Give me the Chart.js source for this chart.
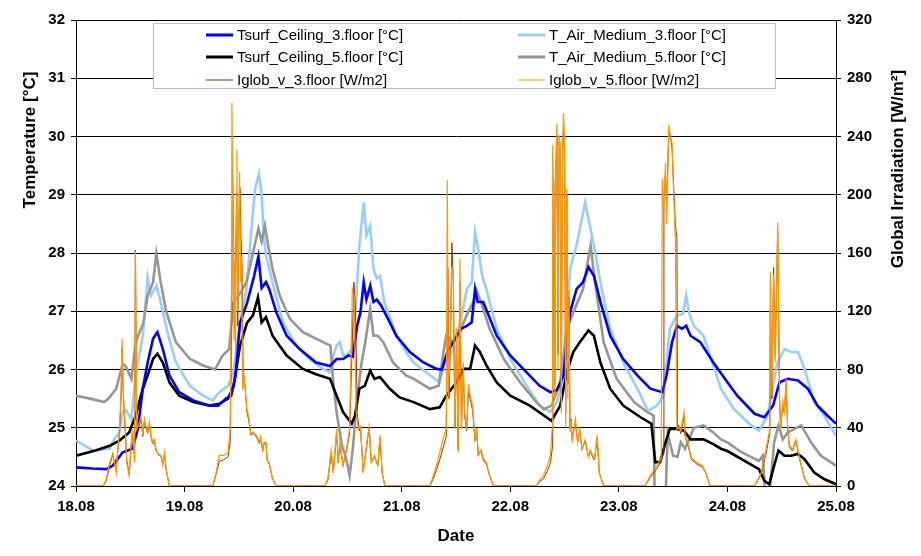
<!DOCTYPE html>
<html>
<head>
<meta charset="utf-8">
<script src="https://cdn.jsdelivr.net/npm/chart.js@4"></script>
<style>
  body { margin: 0; background: #fff; }
</style>
</head>
<body>
<canvas id="chart" width="921" height="556"></canvas>
<script>
// x values are days after 18.08 00:00
const dateLabels = ["18.08", "19.08", "20.08", "21.08", "22.08", "23.08", "24.08", "25.08"];

const tsurfCeiling3 = [
  [0,24.32],[0.15,24.30],[0.28,24.29],[0.34,24.35],[0.43,24.58],[0.52,24.64],[0.57,24.98],[0.615,25.67],[0.66,26.12],[0.71,26.53],
  [0.75,26.64],[0.80,26.35],[0.86,25.9],[0.95,25.61],[1.08,25.47],[1.23,25.38],[1.31,25.38],[1.38,25.5],[1.43,25.55],[1.47,25.9],
  [1.51,26.8],[1.575,27.14],[1.64,27.6],[1.68,27.94],[1.71,27.4],[1.75,27.5],[1.78,27.38],[1.845,26.98],[1.94,26.58],[2.06,26.35],
  [2.21,26.12],[2.34,26.06],[2.40,26.18],[2.46,26.18],[2.51,26.24],[2.55,26.22],[2.59,26.75],[2.62,26.98],[2.65,27.5],[2.675,27.2],
  [2.71,27.44],[2.74,27.16],[2.77,27.2],[2.81,27.1],[2.89,26.81],[2.95,26.58],[3.075,26.3],[3.20,26.12],[3.32,26.01],[3.37,26.0],
  [3.42,26.3],[3.475,26.47],[3.55,26.7],[3.60,26.75],[3.645,26.81],[3.675,27.38],[3.70,27.16],[3.75,27.16],[3.80,26.93],[3.875,26.58],
  [4.0,26.24],[4.15,25.95],[4.27,25.72],[4.37,25.61],[4.43,25.65],[4.49,25.9],[4.55,26.98],[4.61,27.38],[4.67,27.5],[4.72,27.76],
  [4.77,27.61],[4.83,27.16],[4.92,26.58],[5.04,26.18],[5.17,25.9],[5.29,25.67],[5.40,25.61],[5.44,25.9],[5.49,26.47],[5.535,26.75],
  [5.58,26.7],[5.62,26.75],[5.66,26.58],[5.75,26.47],[5.87,26.12],[6.0,25.78],[6.09,25.55],[6.25,25.24],[6.34,25.18],[6.42,25.38],
  [6.48,25.78],[6.555,25.84],[6.65,25.81],[6.74,25.67],[6.83,25.38],[6.92,25.21],[7.0,25.07]
];

const tAirMedium3 = [
  [0,24.78],[0.154,24.61],[0.31,24.64],[0.35,24.8],[0.40,24.92],[0.43,25.27],[0.46,25.3],[0.51,25.15],[0.55,25.9],[0.615,26.58],
  [0.66,27.58],[0.69,27.27],[0.74,27.44],[0.78,27.16],[0.85,26.58],[0.92,26.12],[1.05,25.72],[1.17,25.55],[1.26,25.47],[1.32,25.61],
  [1.40,25.72],[1.45,25.95],[1.48,26.4],[1.53,27.0],[1.57,27.38],[1.62,28.5],[1.65,29.1],[1.685,29.36],[1.71,28.99],[1.73,28.3],
  [1.75,27.96],[1.81,27.5],[1.905,26.81],[2.03,26.41],[2.15,26.18],[2.275,26.01],[2.34,25.95],[2.37,26.24],[2.40,26.41],[2.43,26.47],
  [2.46,26.24],[2.49,26.24],[2.54,26.35],[2.58,27.16],[2.61,28.13],[2.65,28.87],[2.675,28.3],[2.71,28.47],[2.74,27.73],[2.77,27.56],
  [2.80,27.6],[2.84,27.16],[2.95,26.58],[3.04,26.3],[3.11,26.12],[3.26,25.9],[3.35,25.78],[3.40,26.12],[3.46,26.3],[3.54,26.81],
  [3.60,27.38],[3.645,27.5],[3.675,28.36],[3.705,28.07],[3.74,27.61],[3.78,27.38],[3.875,26.7],[4.0,26.18],[4.15,25.72],[4.27,25.38],
  [4.37,25.27],[4.43,25.44],[4.49,25.9],[4.55,27.73],[4.61,28.13],[4.66,28.59],[4.69,28.87],[4.72,28.59],[4.77,28.13],[4.83,27.5],
  [4.92,26.7],[5.04,26.12],[5.17,25.67],[5.27,25.29],[5.35,25.38],[5.41,25.55],[5.47,26.7],[5.535,26.93],[5.59,26.95],[5.62,27.27],
  [5.65,26.95],[5.69,26.75],[5.78,26.58],[5.82,26.35],[5.94,25.67],[6.06,25.32],[6.22,25.04],[6.29,24.95],[6.37,25.21],[6.46,26.12],
  [6.525,26.35],[6.59,26.3],[6.65,26.3],[6.71,26.01],[6.80,25.44],[6.89,25.21],[7.0,24.86]
];

const tsurfCeiling5 = [
  [0,24.52],[0.18,24.61],[0.31,24.69],[0.40,24.78],[0.49,24.92],[0.55,25.21],[0.615,25.67],[0.66,25.9],[0.71,26.18],[0.75,26.27],
  [0.80,26.12],[0.86,25.78],[0.95,25.55],[1.08,25.44],[1.23,25.38],[1.32,25.41],[1.40,25.5],[1.45,25.7],[1.51,26.4],[1.575,26.8],
  [1.63,26.93],[1.676,27.24],[1.71,26.81],[1.75,26.9],[1.81,26.58],[1.94,26.24],[2.09,26.01],[2.21,25.92],[2.34,25.84],[2.40,25.55],
  [2.46,25.27],[2.54,25.07],[2.57,25.21],[2.61,25.67],[2.66,25.72],[2.71,25.98],[2.75,25.84],[2.80,25.87],[2.89,25.67],[2.98,25.52],
  [3.11,25.44],[3.26,25.32],[3.35,25.35],[3.41,25.55],[3.505,25.78],[3.57,26.01],[3.63,26.01],[3.675,26.41],[3.72,26.3],[3.78,26.07],
  [3.875,25.78],[4.0,25.55],[4.18,25.38],[4.31,25.21],[4.38,25.12],[4.46,25.38],[4.52,25.95],[4.58,26.3],[4.64,26.47],[4.72,26.67],
  [4.77,26.58],[4.83,26.12],[4.92,25.67],[5.04,25.38],[5.20,25.18],[5.30,25.07],[5.335,24.41],[5.38,24.41],[5.43,24.75],[5.47,24.98],
  [5.535,24.98],[5.60,24.95],[5.66,24.8],[5.78,24.8],[5.87,24.72],[5.94,24.64],[6.0,24.6],[6.13,24.46],[6.29,24.29],[6.34,24.09],
  [6.385,24.03],[6.43,24.35],[6.47,24.61],[6.525,24.52],[6.585,24.52],[6.65,24.55],[6.71,24.46],[6.80,24.23],[6.89,24.12],[7.0,24.03]
];

const tAirMedium5 = [
  [0,25.55],[0.13,25.5],[0.26,25.44],[0.30,25.5],[0.37,25.67],[0.43,26.1],[0.46,26.05],[0.51,25.84],[0.55,26.47],[0.62,26.8],
  [0.66,27.27],[0.71,27.5],[0.74,27.99],[0.78,27.5],[0.83,27.0],[0.92,26.47],[1.05,26.18],[1.17,26.07],[1.28,26.0],[1.35,26.24],
  [1.41,26.35],[1.45,27.15],[1.51,27.3],[1.57,27.5],[1.63,28.0],[1.68,28.42],[1.71,28.2],[1.74,28.47],[1.77,28.13],[1.81,27.73],
  [1.876,27.27],[1.97,26.87],[2.09,26.64],[2.21,26.53],[2.343,26.41],[2.37,25.78],[2.40,25.27],[2.45,24.69],[2.49,24.46],[2.52,24.18],
  [2.55,24.64],[2.58,25.32],[2.63,26.12],[2.66,26.41],[2.71,27.04],[2.74,26.58],[2.78,26.58],[2.83,26.47],[2.92,26.12],[3.04,25.9],
  [3.11,25.84],[3.26,25.67],[3.34,25.72],[3.38,26.24],[3.41,26.58],[3.475,26.47],[3.57,26.81],[3.61,26.98],[3.66,27.16],[3.69,27.36],
  [3.74,27.1],[3.81,26.7],[3.94,26.18],[4.09,25.78],[4.24,25.44],[4.31,25.32],[4.38,25.38],[4.46,25.78],[4.52,26.7],[4.58,26.98],
  [4.67,27.38],[4.74,28.13],[4.78,27.5],[4.86,26.47],[4.98,25.84],[5.14,25.44],[5.26,25.27],[5.32,25.21],[5.33,23.8],[5.43,23.8],
  [5.45,24.9],[5.50,24.52],[5.54,24.5],[5.57,24.75],[5.61,24.64],[5.66,24.86],[5.69,25.0],[5.78,25.04],[5.87,24.92],[5.94,24.8],
  [6.0,24.75],[6.13,24.58],[6.29,24.43],[6.325,24.52],[6.35,23.8],[6.385,23.8],[6.43,24.75],[6.47,25.04],[6.51,24.8],[6.555,24.92],
  [6.62,24.98],[6.68,25.04],[6.77,24.75],[6.86,24.52],[7.0,24.35]
];

const iglobV3 = [
  [0,0],[0.25,0],[0.28,4],[0.31,14],[0.34,22],[0.37,10],[0.38,20],[0.40,36],[0.415,60],[0.424,95],[0.437,60],[0.455,36],[0.467,18],
  [0.49,8],[0.507,26],[0.52,37],[0.54,18],[0.547,162],[0.56,40],[0.585,42],[0.60,46],[0.615,34],[0.63,44],[0.645,40],[0.66,36],
  [0.677,42],[0.69,34],[0.707,29],[0.72,31],[0.738,24],[0.76,22],[0.784,20],[0.80,15],[0.815,22],[0.83,11],[0.86,0],
  [1.26,0],[1.29,8],[1.32,17],[1.36,18],[1.40,20],[1.42,30],[1.435,120],[1.44,230],[1.45,180],[1.46,110],[1.47,150],[1.48,200],
  [1.49,110],[1.50,180],[1.51,205],[1.52,170],[1.53,150],[1.54,70],[1.555,70],[1.575,50],[1.59,46],[1.61,35],[1.63,36],[1.66,34],
  [1.69,29],[1.70,33],[1.72,24],[1.73,29],[1.75,29],[1.76,18],[1.78,15],[1.81,5],[1.845,0],
  [2.29,0],[2.32,4],[2.35,22],[2.37,9],[2.40,36],[2.415,16],[2.43,28],[2.46,14],[2.49,24],[2.52,36],[2.545,100],[2.56,140],
  [2.575,120],[2.59,50],[2.61,38],[2.62,40],[2.645,10],[2.675,26],[2.70,40],[2.72,16],[2.75,20],[2.78,14],[2.80,33],[2.82,9],[2.845,0],
  [3.26,0],[3.29,5],[3.32,11],[3.35,18],[3.38,26],[3.41,34],[3.425,150],[3.435,60],[3.45,100],[3.462,167],[3.475,140],[3.49,40],
  [3.505,100],[3.52,25],[3.536,140],[3.55,40],[3.567,80],[3.58,48],[3.598,38],[3.615,66],[3.63,60],[3.653,52],[3.675,31],[3.69,38],
  [3.705,21],[3.73,24],[3.75,18],[3.78,15],[3.81,7],[3.845,0],
  [4.24,0],[4.27,3],[4.305,5],[4.34,10],[4.37,16],[4.39,28],[4.40,210],[4.41,70],[4.42,220],[4.43,240],[4.44,90],[4.45,236],
  [4.46,230],[4.47,60],[4.48,215],[4.49,248],[4.50,235],[4.51,50],[4.52,200],[4.53,70],[4.54,130],[4.55,40],[4.56,46],[4.57,32],
  [4.60,44],[4.62,30],[4.64,38],[4.66,25],[4.69,31],[4.72,20],[4.735,24],[4.77,18],[4.78,20],[4.80,33],[4.82,9],[4.86,0],
  [5.24,0],[5.29,6],[5.35,12],[5.39,17],[5.41,22],[5.415,200],[5.43,215],[5.44,190],[5.46,245],[5.475,240],[5.49,232],[5.505,205],
  [5.52,180],[5.535,170],[5.54,40],[5.55,42],[5.57,36],[5.60,48],[5.61,34],[5.64,27],[5.67,18],[5.72,15],[5.77,13],[5.80,9],[5.84,0],
  [6.25,0],[6.31,8],[6.355,22],[6.39,36],[6.395,120],[6.41,60],[6.425,150],[6.44,90],[6.463,175],[6.48,60],[6.49,40],[6.51,55],
  [6.525,50],[6.54,70],[6.555,40],[6.57,27],[6.60,24],[6.63,31],[6.66,20],[6.71,5],[6.755,0],[7,0]
];

const iglobV5 = [
  [0,0],[0.25,0],[0.28,5],[0.31,16],[0.34,23],[0.37,9],[0.38,21],[0.40,39],[0.415,64],[0.424,101],[0.437,62],[0.455,39],[0.467,16],
  [0.49,7],[0.507,28],[0.52,39],[0.54,16],[0.547,161],[0.56,39],[0.585,44],[0.60,48],[0.615,35],[0.63,46],[0.645,41],[0.66,37],
  [0.677,44],[0.69,35],[0.707,30],[0.72,32],[0.738,25],[0.76,21],[0.784,21],[0.80,14],[0.815,23],[0.83,12],[0.86,0],
  [1.26,0],[1.29,9],[1.32,21],[1.36,21],[1.40,23],[1.42,39],[1.43,131],[1.436,263],[1.445,200],[1.455,100],[1.46,154],[1.47,90],
  [1.476,202],[1.482,231],[1.49,120],[1.50,190],[1.507,216],[1.515,140],[1.525,158],[1.535,66],[1.55,74],[1.575,52],[1.59,48],
  [1.61,36],[1.63,37],[1.66,35],[1.69,30],[1.70,34],[1.72,25],[1.73,30],[1.75,30],[1.76,18],[1.78,16],[1.81,5],[1.845,0],
  [2.29,0],[2.32,5],[2.35,25],[2.37,9],[2.40,39],[2.415,16],[2.43,30],[2.46,14],[2.49,25],[2.52,39],[2.545,135],[2.56,131],
  [2.58,51],[2.60,39],[2.62,41],[2.645,9],[2.675,28],[2.70,41],[2.72,16],[2.75,21],[2.78,14],[2.80,35],[2.82,9],[2.845,0],
  [3.26,0],[3.29,7],[3.32,14],[3.35,23],[3.38,32],[3.41,39],[3.42,210],[3.43,62],[3.45,108],[3.46,150],[3.475,149],[3.49,39],
  [3.505,108],[3.52,23],[3.536,156],[3.55,39],[3.567,85],[3.58,50],[3.598,39],[3.615,70],[3.63,62],[3.653,55],[3.675,32],[3.69,40],
  [3.705,21],[3.73,25],[3.75,19],[3.78,16],[3.81,7],[3.845,0],
  [4.24,0],[4.27,4],[4.305,7],[4.34,14],[4.37,21],[4.385,40],[4.39,234],[4.40,200],[4.41,60],[4.42,226],[4.43,249],[4.44,80],
  [4.45,241],[4.46,235],[4.47,50],[4.48,220],[4.49,256],[4.50,240],[4.51,40],[4.52,204],[4.53,60],[4.54,135],[4.55,37],[4.56,45],
  [4.57,30],[4.60,46],[4.62,30],[4.64,39],[4.66,25],[4.69,32],[4.72,20],[4.735,25],[4.77,19],[4.78,21],[4.80,35],[4.82,9],[4.86,0],
  [5.24,0],[5.29,7],[5.35,14],[5.39,19],[5.40,211],[5.41,190],[5.43,222],[5.44,180],[5.46,248],[5.475,238],[5.49,236],[5.505,200],
  [5.52,170],[5.535,39],[5.55,40],[5.57,38],[5.60,51],[5.61,35],[5.64,28],[5.67,19],[5.72,16],[5.77,14],[5.80,9],[5.84,0],
  [6.25,0],[6.31,9],[6.355,25],[6.39,39],[6.395,147],[6.41,62],[6.425,145],[6.44,85],[6.463,181],[6.48,62],[6.49,39],[6.51,58],
  [6.525,51],[6.54,74],[6.555,40],[6.57,28],[6.60,25],[6.63,32],[6.66,21],[6.71,5],[6.755,0],[7,0]
];

const FONT = "Arial, 'Liberation Sans', sans-serif";
const toPts = arr => arr.map(([x, y]) => ({ x, y }));

const mkSet = (label, data, color, width, axis, order) => ({
  label, data: toPts(data), borderColor: color, backgroundColor: color,
  borderWidth: width, yAxisID: axis, order,
  pointRadius: 0, tension: 0, fill: false
});

const datasets = [
  mkSet("Tsurf_Ceiling_3.floor [°C]", tsurfCeiling3, "#0000ff", 2.6, "y", 2),
  mkSet("T_Air_Medium_3.floor [°C]", tAirMedium3, "#99ccff", 2.6, "y", 5),
  mkSet("Tsurf_Ceiling_5.floor [°C]", tsurfCeiling5, "#000000", 2.6, "y", 3),
  mkSet("T_Air_Medium_5.floor [°C]", tAirMedium5, "#969696", 2.6, "y", 4),
  mkSet("Iglob_v_3.floor [W/m2]", iglobV3, "#993300", 1, "yI", 1),
  mkSet("Iglob_v_5.floor [W/m2]", iglobV5, "#ff9900", 1.2, "yI", 0)
];

// legend box + rotated axis titles
const extras = {
  id: "extras",
  afterDraw(chart) {
    const ctx = chart.ctx;
    ctx.save();
    ctx.fillStyle = "#fff";
    ctx.fillRect(153, 23, 623, 66);
    ctx.strokeStyle = "#c0c0c0";
    ctx.lineWidth = 1;
    ctx.strokeRect(153.5, 23.5, 622, 65);

    const cols = [206, 518];
    const rows = [35, 57, 80];
    ctx.font = "15px " + FONT;
    ctx.textBaseline = "middle";
    ctx.textAlign = "left";
    datasets.forEach((ds, i) => {
      const x = cols[i % 2], y = rows[Math.floor(i / 2)];
      ctx.strokeStyle = ds.borderColor;
      ctx.lineWidth = ds.borderWidth < 2 ? 1 : 3;
      ctx.beginPath();
      ctx.moveTo(x, y);
      ctx.lineTo(x + 27, y);
      ctx.stroke();
      ctx.fillStyle = "#000";
      ctx.fillText(ds.label, x + 31, y + 1);
    });

    ctx.font = "bold 17px " + FONT;
    ctx.textAlign = "center";
    ctx.fillStyle = "#000";
    ctx.translate(30, 140);
    ctx.rotate(-Math.PI / 2);
    ctx.fillText("Temperature [°C]", 0, 0);
    ctx.restore();

    ctx.save();
    ctx.font = "bold 17px " + FONT;
    ctx.textAlign = "center";
    ctx.textBaseline = "middle";
    ctx.fillStyle = "#000";
    ctx.translate(898, 169);
    ctx.rotate(-Math.PI / 2);
    ctx.fillText("Global Irradiation [W/m²]", 0, 0);
    ctx.restore();
  }
};

const tickFont = { family: FONT, size: 15, weight: "bold" };

new Chart(document.getElementById("chart"), {
  type: "line",
  data: { datasets },
  options: {
    responsive: false,
    animation: false,
    layout: { padding: { top: 20, left: 0, right: 0, bottom: 0 } },
    plugins: { legend: { display: false }, tooltip: { enabled: false } },
    scales: {
      x: {
        type: "linear", min: 0, max: 7,
        ticks: { stepSize: 1, callback: v => dateLabels[v], font: tickFont, color: "#000", padding: 6, maxRotation: 0 },
        grid: { drawOnChartArea: false, color: "#000", tickLength: 6 },
        border: { color: "#000" },
        title: { display: true, text: "Date", color: "#000", font: { family: FONT, size: 17, weight: "bold" }, padding: { top: 0, bottom: 9 } },
        afterFit: s => { s.height = 70; }
      },
      y: {
        position: "left", min: 24, max: 32,
        ticks: { stepSize: 1, font: tickFont, color: "#000", padding: 6 },
        grid: { color: "#000", tickLength: 5 },
        border: { color: "#000" },
        afterFit: s => { s.width = 76; }
      },
      yI: {
        position: "right", min: 0, max: 320,
        ticks: { stepSize: 40, font: tickFont, color: "#000", padding: 6 },
        grid: { drawOnChartArea: false, color: "#000", tickLength: 5 },
        border: { color: "#000" },
        afterFit: s => { s.width = 85; }
      }
    }
  },
  plugins: [extras]
});
</script>
</body>
</html>
